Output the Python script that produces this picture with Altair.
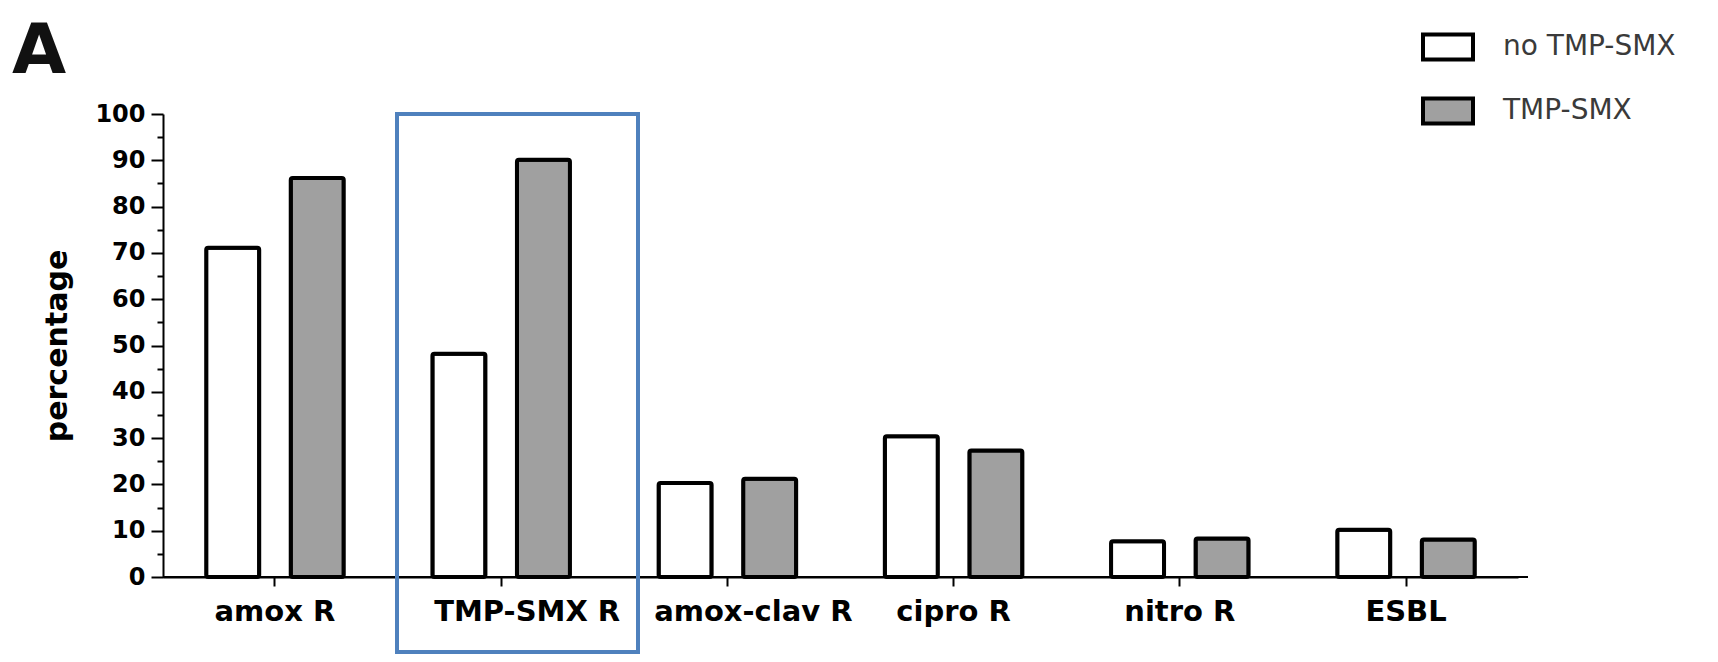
import altair as alt
import pandas as pd

categories = ["amox R", "TMP-SMX R", "amox-clav R", "cipro R", "nitro R", "ESBL"]
groups = ["no TMP-SMX", "TMP-SMX"]
no_tmp_smx = [71.1, 48.2, 20.3, 30.4, 7.7, 10.2]
tmp_smx = [86.2, 90.1, 21.2, 27.3, 8.3, 8.1]
y_ticks = list(range(0, 101, 5))

rows = []
for c, a, b in zip(categories, no_tmp_smx, tmp_smx):
    rows.append({"category": c, "group": groups[0], "value": a})
    rows.append({"category": c, "group": groups[1], "value": b})
df = pd.DataFrame(rows)
one = pd.DataFrame({"k": [0]})

FONT = "DejaVu Sans"
W, H = 1355, 463

bars = alt.Chart(df).mark_bar(stroke="black", strokeWidth=4, cornerRadius=2).encode(
    x=alt.X(
        "category:N",
        sort=categories,
        title=None,
        scale=alt.Scale(paddingInner=0.392, paddingOuter=0.191),
        axis=alt.Axis(
            labelAngle=0,
            labelFont=FONT,
            labelFontSize=29,
            labelFontWeight="bold",
            labelColor="black",
            labelPadding=11,
            labelLimit=0,
            labelOffset={
                "condition": {
                    "test": "datum.value === 'TMP-SMX R' || datum.value === 'amox-clav R'",
                    "value": 26,
                },
                "value": 0,
            },
            tickSize=9,
            tickWidth=2,
            tickColor="black",
            domainColor="black",
            domainWidth=2,
        ),
    ),
    xOffset=alt.XOffset(
        "group:N", sort=groups, scale=alt.Scale(paddingInner=0.373, paddingOuter=0)
    ),
    y=alt.Y(
        "value:Q",
        title="percentage",
        scale=alt.Scale(domain=[0, 100], nice=False),
        axis=alt.Axis(
            values=y_ticks,
            labelExpr="datum.value % 10 === 0 ? datum.label : ''",
            labelFont=FONT,
            labelFontSize=24,
            labelFontWeight="bold",
            labelColor="black",
            labelPadding=6,
            tickSize={"condition": {"test": "datum.value % 10 === 0", "value": 12}, "value": 6},
            tickWidth=2,
            tickColor="black",
            domainColor="black",
            domainWidth=2,
            titleFont=FONT,
            titleFontSize=30,
            titleFontWeight="bold",
            titleColor="black",
            titlePadding=22,
            grid=False,
        ),
    ),
    fill=alt.Fill(
        "group:N",
        sort=groups,
        scale=alt.Scale(domain=groups, range=["white", "#a0a0a0"]),
        legend=alt.Legend(
            title=None,
            orient="none",
            legendX=1258,
            legendY=-94,
            padding=0,
            symbolType="M-1,-0.5H1V0.5H-1Z",
            symbolSize=2500,
            symbolStrokeColor="black",
            symbolStrokeWidth=4,
            symbolOpacity=1,
            labelFont=FONT,
            labelFontSize=28,
            labelColor="#3a3a3a",
            labelOffset=28,
            labelLimit=0,
            rowPadding=16,
        ),
    ),
)

baseline = alt.Chart(one).mark_rule(color="black", strokeWidth=2).encode(
    x=alt.value(0), x2=alt.value(W + 10), y=alt.value(H)
)

box = alt.Chart(one).mark_rect(fill=None, stroke="#4f81bd", strokeWidth=4).encode(
    x=alt.value(234), x2=alt.value(475), y=alt.value(0), y2=alt.value(538)
)

label_a = alt.Chart(one).mark_text(
    text="A", align="left", baseline="alphabetic", font=FONT, fontSize=70,
    fontWeight="bold", color="#111111"
).encode(x=alt.value(-151), y=alt.value(-41))

chart = alt.layer(bars, baseline, box, label_a).properties(
    width=W,
    height=H,
    autosize=alt.AutoSizeParams(type="none"),
    padding={"left": 155, "top": 106, "right": 185, "bottom": 77},
).configure_view(stroke=None).configure_axis(grid=False)

chart.save("out.html", embed_options={"renderer": "svg", "actions": False})
